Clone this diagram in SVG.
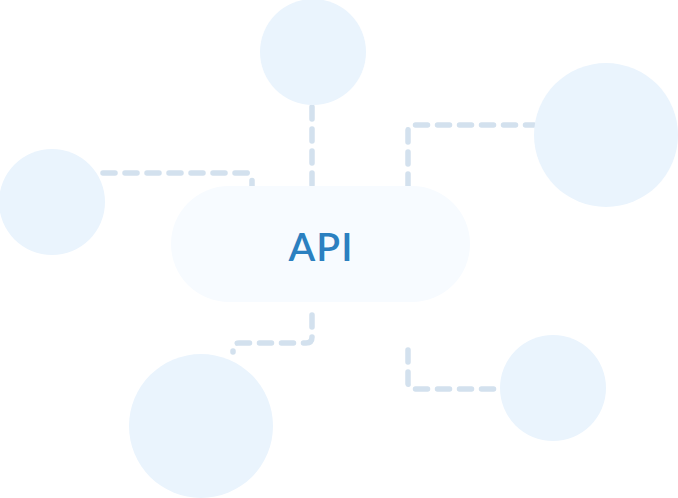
<svg xmlns="http://www.w3.org/2000/svg" width="678" height="498" viewBox="0 0 678 498">
<style>
.node{fill:#eaf4fd}
.pill{fill:#f7fbff}
.conn{fill:none;stroke:#d3e1ee;stroke-width:5.5;stroke-linecap:round;stroke-linejoin:round;stroke-dasharray:12 10}
.label{font-family:"Lato","Liberation Sans",sans-serif;font-size:39px;font-weight:600;fill:#2b80c0;text-anchor:middle;letter-spacing:1px}
</style>
<rect width="678" height="498" fill="#ffffff"/>
<g id="connectors">
<path class="conn" d="M103 173 H246 Q252 173 252 179 V188"/>
<path class="conn" d="M312 107 V188"/>
<path class="conn" d="M408 186 V131 Q408 125 414 125 H534"/>
<path class="conn" d="M312 315 V337 Q312 343 306 343 H239 Q233 343 233 349 V352"/>
<path class="conn" d="M408 350 V383 Q408 389 414 389 H500"/>
</g>
<g id="api">
<rect class="pill" x="171" y="186" width="299" height="116" rx="58"/>
<text class="label" x="321" y="261">API</text>
</g>
<g id="node-top"><circle class="node" cx="313" cy="52" r="53"/></g>
<g id="node-left"><circle class="node" cx="52" cy="202" r="53"/></g>
<g id="node-right"><circle class="node" cx="606" cy="135" r="72"/></g>
<g id="node-bottom-left"><circle class="node" cx="201" cy="426" r="72"/></g>
<g id="node-bottom-right"><circle class="node" cx="553" cy="388" r="53"/></g>
</svg>
